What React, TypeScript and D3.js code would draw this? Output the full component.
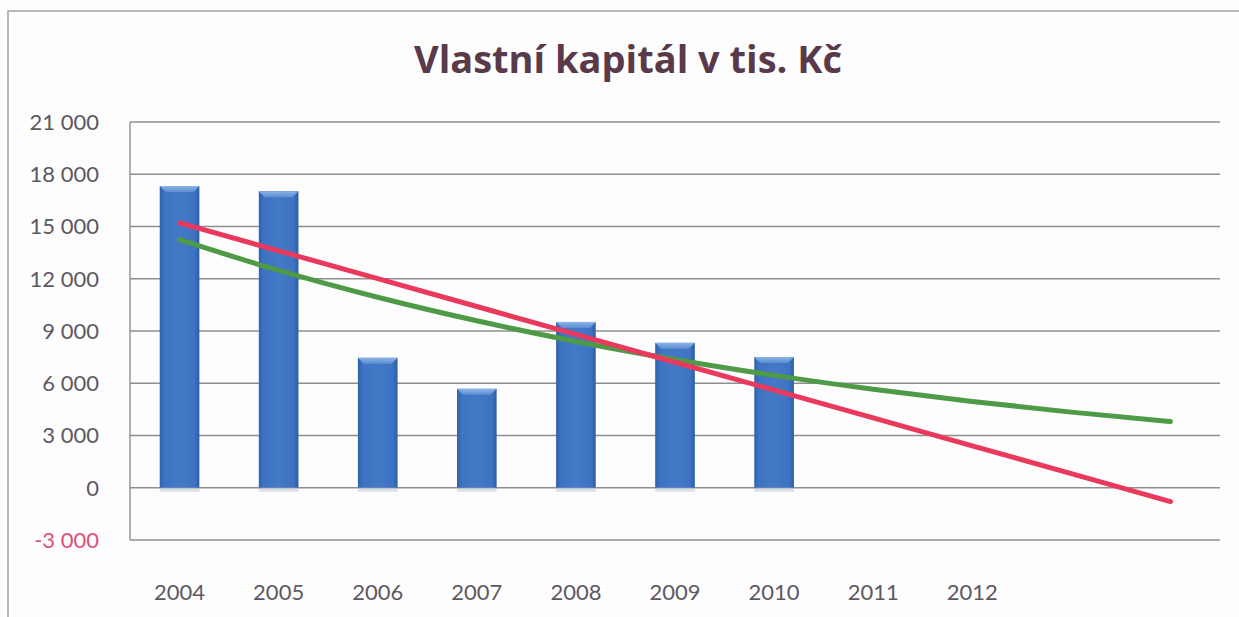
import React, { useEffect } from "react";
import * as d3 from "d3";

// categories (2013, 2014 only carry the trend forecast, no label)
const years = ["2004", "2005", "2006", "2007", "2008", "2009", "2010", "2011", "2012", "2013", "2014"];
const labeledYears = ["2004", "2005", "2006", "2007", "2008", "2009", "2010", "2011", "2012"];
// vlastní kapitál (tis. Kč), 2004-2010
const equity = [17320, 17030, 7460, 5680, 9520, 8320, 7510];
const yTicks = [-3000, 0, 3000, 6000, 9000, 12000, 15000, 18000, 21000];

const W = 1239;
const H = 617;
const plot = { left: 130, right: 1220, top: 122, bottom: 540 };

const x = d3.scaleBand<string>().domain(years).range([plot.left, plot.right]).paddingInner(0.6).paddingOuter(0.3);
const y = d3.scaleLinear().domain([-3000, 21000]).range([plot.bottom, plot.top]);

const czFormat = d3
  .formatLocale({ decimal: ",", thousands: " ", grouping: [3], currency: ["", " Kč"], minus: "-" })
  .format(",d");

// Excel-style trendlines: least squares, forecast to last category
const idx = equity.map((_, i) => i);
const lin = (() => {
  const mx = d3.mean(idx)!;
  const my = d3.mean(equity)!;
  const sxy = d3.sum(idx, (i) => (i - mx) * (equity[i] - my));
  const sxx = d3.sum(idx, (i) => (i - mx) ** 2);
  const b = sxy / sxx;
  return { a: my - b * mx, b };
})();
const expo = (() => {
  const ly = equity.map((v) => Math.log(v));
  const mx = d3.mean(idx)!;
  const my = d3.mean(ly)!;
  const sxy = d3.sum(idx, (i) => (i - mx) * (ly[i] - my));
  const sxx = d3.sum(idx, (i) => (i - mx) ** 2);
  const b = sxy / sxx;
  return { a: Math.exp(my - b * mx), b };
})();

const cx = (i: number) => x(years[i])! + x.bandwidth() / 2;
const trendIdx = years.map((_, i) => i);
const linePath = d3
  .line<number>()
  .x((i) => cx(i))
  .y((i) => y(lin.a + lin.b * i))(trendIdx);
const expPath = d3
  .line<number>()
  .x((i) => cx(i))
  .y((i) => y(expo.a * Math.exp(expo.b * i)))
  .curve(d3.curveMonotoneX)(trendIdx);

const font = "Lato, 'Open Sans', sans-serif";

export default function App() {
  useEffect(() => {
    document.body.style.margin = "0";
    document.body.style.background = "#fdfdfd";
  }, []);

  const bw = x.bandwidth();

  return (
    <svg width={W} height={H} style={{ display: "block", background: "#fdfdfd" }}>
      <defs>
        <linearGradient id="barFill" x1="0" x2="1" y1="0" y2="0">
          <stop offset="0" stopColor="#2f62ad" />
          <stop offset="0.12" stopColor="#3d73c2" />
          <stop offset="0.5" stopColor="#4479c6" />
          <stop offset="0.88" stopColor="#3d73c2" />
          <stop offset="1" stopColor="#2c5ca6" />
        </linearGradient>
        <linearGradient id="bevel" x1="0" x2="0" y1="0" y2="1">
          <stop offset="0" stopColor="#8cb4e6" />
          <stop offset="1" stopColor="#5b8dd2" />
        </linearGradient>
      </defs>

      {/* outer chart border */}
      <rect x={8} y={11} width={W} height={H} fill="none" stroke="#a3a3a3" strokeWidth={1.5} />

      <text
        x={628}
        y={73}
        textAnchor="middle"
        fontFamily="'Open Sans', Lato, sans-serif"
        fontWeight={700}
        fontSize={38}
        fill="#5a3a4a"
      >
        Vlastní kapitál v tis. Kč
      </text>

      {/* gridlines + y labels */}
      {yTicks.map((t) => (
        <g key={t}>
          <line x1={plot.left} x2={plot.right} y1={y(t)} y2={y(t)} stroke="#8e8e8e" strokeWidth={1.4} />
          <text
            x={99}
            y={y(t)}
            dy="0.36em"
            textAnchor="end"
            fontFamily={font}
            fontSize={22}
            fill={t < 0 ? "#e0507a" : "#5d5862"}
          >
            {czFormat(t)}
          </text>
        </g>
      ))}
      <line x1={plot.left} x2={plot.left} y1={plot.top} y2={plot.bottom} stroke="#8e8e8e" strokeWidth={1.4} />

      {/* bars */}
      {equity.map((v, i) => {
        const x0 = x(years[i])!;
        const y0 = y(v);
        const y1 = y(0);
        const bev = 6;
        return (
          <g key={years[i]}>
            <rect x={x0} y={y0} width={bw} height={y1 - y0} fill="url(#barFill)" />
            <polygon
              points={`${x0},${y0} ${x0 + bw},${y0} ${x0 + bw - bev},${y0 + bev} ${x0 + bev},${y0 + bev}`}
              fill="url(#bevel)"
            />
            <rect x={x0} y={y1} width={bw} height={4} fill="#b9c4d6" opacity={0.5} />
          </g>
        );
      })}

      {/* trendlines */}
      <path d={expPath ?? ""} fill="none" stroke="#4e9a47" strokeWidth={5} strokeLinecap="round" />
      <path d={linePath ?? ""} fill="none" stroke="#e93a5e" strokeWidth={5} strokeLinecap="round" />

      {/* x labels */}
      {labeledYears.map((yr) => (
        <text
          key={yr}
          x={x(yr)! + bw / 2}
          y={600}
          textAnchor="middle"
          fontFamily={font}
          fontSize={22}
          fill="#5d5862"
        >
          {yr}
        </text>
      ))}
    </svg>
  );
}
